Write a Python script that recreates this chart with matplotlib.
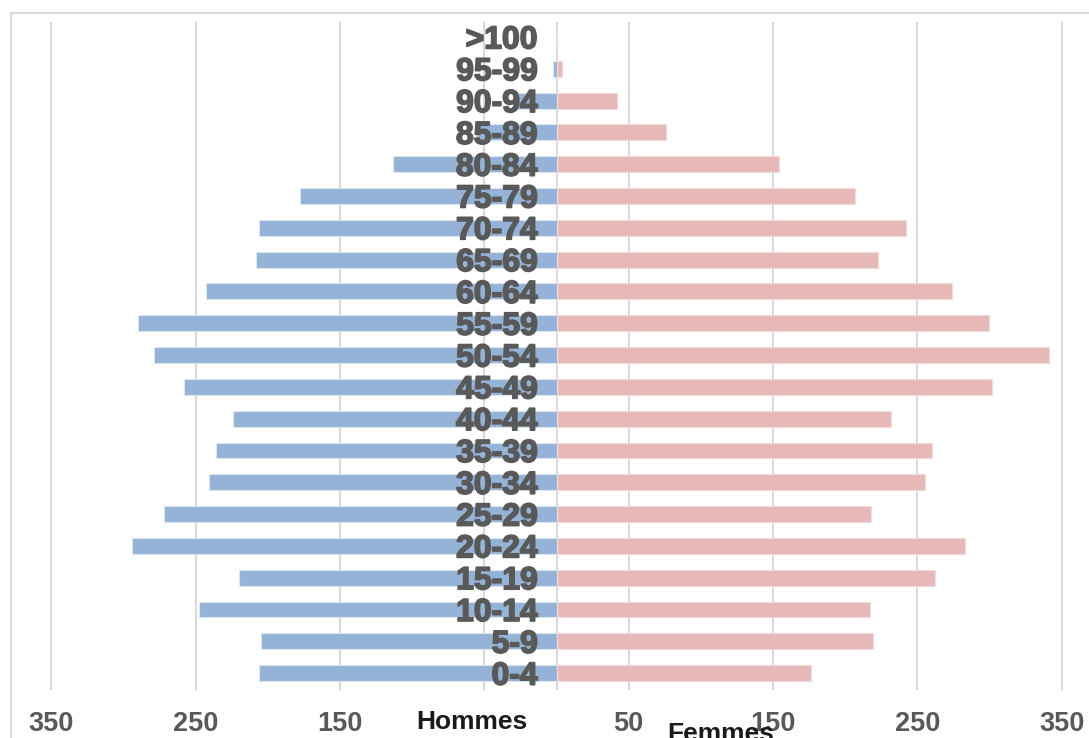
import numpy as np
import matplotlib.pyplot as plt
import matplotlib.patheffects as pe
from matplotlib.patches import Rectangle
from matplotlib.transforms import blended_transform_factory

plt.rcParams['font.family'] = ['Liberation Sans', 'DejaVu Sans']

ages = ["0-4", "5-9", "10-14", "15-19", "20-24", "25-29", "30-34", "35-39",
        "40-44", "45-49", "50-54", "55-59", "60-64", "65-69", "70-74",
        "75-79", "80-84", "85-89", "90-94", "95-99", ">100"]
hommes = [206, 205, 248, 220, 294, 272, 241, 236, 224, 258, 279, 290,
          243, 208, 206, 178, 113, 56, 28, 2.5, 0.5]
femmes = [176, 219, 217, 262, 283, 218, 255, 260, 232, 302, 341, 300,
          274, 223, 242, 207, 154, 76, 42, 4, 0]

tick_pos = [-350, -250, -150, -50, 50, 150, 250, 350]
tick_txt = ["350", "250", "150", "", "50", "150", "250", "350"]

fig = plt.figure(figsize=(10.89, 7.38), dpi=100)
fig.patches.append(Rectangle((11 / 1089, -0.1), 1.2, 1 - 13 / 738 + 0.1,
                             transform=fig.transFigure, fill=False,
                             edgecolor='#d9d9d9', linewidth=1.5))
ax = fig.add_axes([20 / 1089, 48 / 738, 1065 / 1089, 668 / 738])

y = np.arange(len(ages))
ax.barh(y, [-v for v in hommes], height=0.5, color='#95b3d7',
        edgecolor='#dce6f1', linewidth=0.8, zorder=2)
ax.barh(y, femmes, height=0.5, color='#e6b9b8',
        edgecolor='#f2dcdb', linewidth=0.8, zorder=2)

heavy = [pe.withStroke(linewidth=1.2, foreground='#595959')]
for yi, lab in zip(y, ages):
    ax.text(-13, yi, lab, ha='right', va='center_baseline', fontsize=23,
            fontweight='bold', color='#595959', zorder=3, path_effects=heavy)

ax.set_xlim(-371.8, 366.2)
ax.set_ylim(-0.53, len(ages) - 0.53)
ax.set_xticks(tick_pos)
ax.set_xticklabels(tick_txt, fontsize=19.5, fontweight='bold', color='#595959')
ax.tick_params(axis='x', length=0, pad=15)
ax.set_yticks([])
for x in tick_pos + [0]:
    ax.axvline(x, color='#d9d9d9', linewidth=1.5, zorder=1)
for s in ax.spines.values():
    s.set_visible(False)

tr = blended_transform_factory(ax.transData, fig.transFigure)
ax.text(-59, 1 - 722 / 738, "Hommes", ha='center', va='center', fontsize=19,
        fontweight='bold', color='#1a1a1a', transform=tr)
ax.text(114, 1 - 734 / 738, "Femmes", ha='center', va='center', fontsize=19,
        fontweight='bold', color='#1a1a1a', transform=tr)

fig.savefig('out.png', dpi=100)
